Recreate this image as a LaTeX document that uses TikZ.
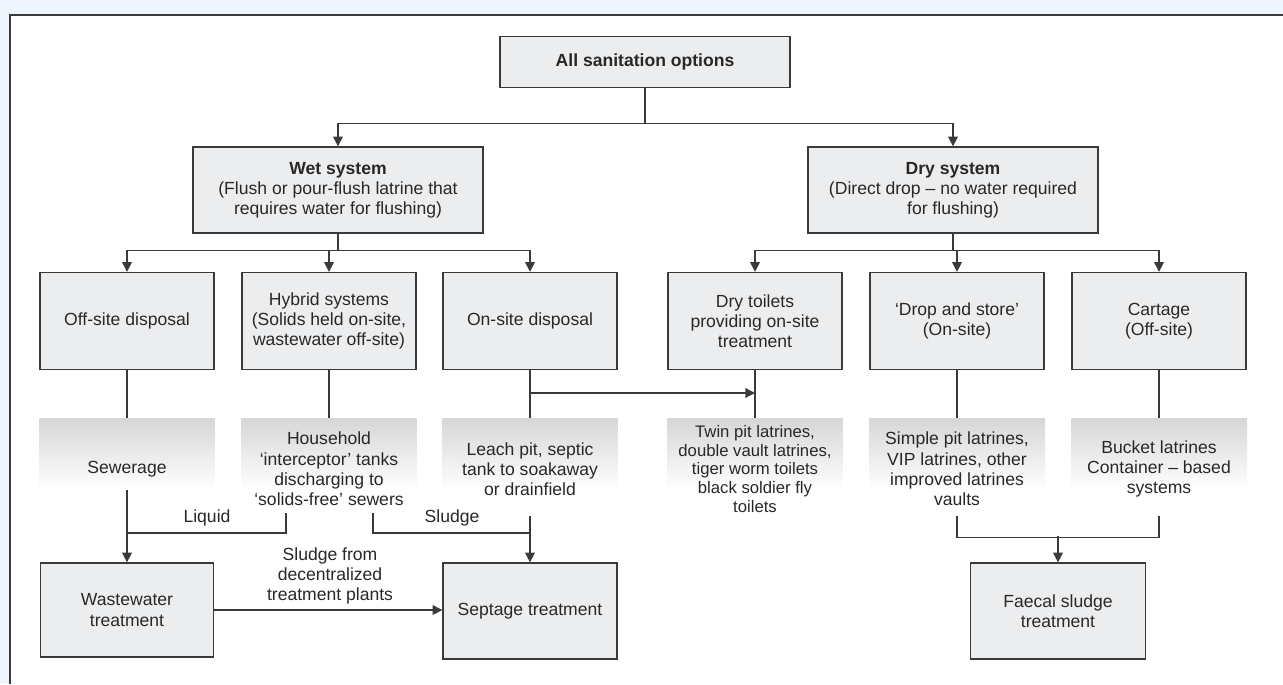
\documentclass[tikz,border=0pt]{standalone}
\usepackage{fontspec}
\setmainfont{Liberation Sans}
\usetikzlibrary{positioning, calc, arrows.meta}
\definecolor{boxfill}{RGB}{236,237,239}
\definecolor{boxline}{RGB}{58,58,58}
\definecolor{pagebg}{RGB}{238,245,252}
\definecolor{txt}{RGB}{40,40,40}

\begin{document}
\begin{tikzpicture}[
  x=0.02cm, y=-0.02cm,
  font=\fontsize{10}{11.5}\selectfont,
  box/.style={
    draw=boxline, fill=boxfill, line width=0.8pt,
    align=center, text=txt, inner sep=2pt
  },
  topbox/.style={box, minimum width=5.8cm, minimum height=1.02cm},
  sysbox/.style={box, minimum width=5.8cm, minimum height=1.72cm},
  optbox/.style={box, minimum width=3.48cm, minimum height=1.94cm},
  shadebg/.style={
    top color=gray!32, bottom color=white,
    minimum width=3.52cm, minimum height=1.44cm, inner sep=0pt
  },
  info/.style={align=center, text=txt, minimum height=1.88cm, inner sep=0pt},
  tag/.style={text=txt, align=center},
  link/.style={draw=boxline, line width=0.8pt},
  arr/.style={link, -{Triangle[length=5.5pt, width=5.5pt]}},
]
  \useasboundingbox (0,0) rectangle (1283,684);

  % --- Page and frame ---
  \fill[pagebg] (0,0) rectangle (1283,684);
  \fill[white] (10,15) rectangle (1283,684);
  \draw[link] (1283,15) -- (10,15) -- (10,684);

  % --- Top level ---
  \node[topbox] (all) at (645,62) {\textbf{All sanitation options}};
  \node[sysbox] (wet) at (338,190) {\textbf{Wet system}\\(Flush or pour-flush latrine that\\requires water for flushing)};
  \node[sysbox] (dry) at (953,190) {\textbf{Dry system}\\(Direct drop – no water required\\for flushing)};

  % --- Options ---
  \node[optbox] (offsite) at (127,321) {Off-site disposal};
  \node[optbox] (hybrid) at (329,321) {Hybrid systems\\(Solids held on-site,\\wastewater off-site)};
  \node[optbox] (onsite) at (530,321) {On-site disposal};
  \node[optbox] (drytoilet) at (755,321) {Dry toilets\\providing on-site\\treatment};
  \node[optbox] (dropstore) at (957,321) {‘Drop and store’\\(On-site)};
  \node[optbox] (cartage) at (1159,321) {Cartage\\(Off-site)};

  % --- Shaded examples ---
  \node[shadebg] (sewerbg) at (127,454) {};
  \node[shadebg] (housebg) at (329,454) {};
  \node[shadebg] (leachbg) at (530,454) {};
  \node[shadebg] (twinbg) at (755,454) {};
  \node[shadebg] (simplebg) at (957,454) {};
  \node[shadebg] (bucketbg) at (1159,454) {};

  \node[info] (sewer) at (127,469) {Sewerage};
  \node[info] (house) at (329,469) {Household\\‘interceptor’ tanks\\discharging to\\‘solids-free’ sewers};
  \node[info] (leach) at (530,469) {Leach pit, septic\\tank to soakaway\\or drainfield};
  \node[info, font=\fontsize{9.5}{10.6}\selectfont] (twin) at (755,469) {Twin pit latrines,\\double vault latrines,\\tiger worm toilets\\black soldier fly\\toilets};
  \node[info] (simple) at (957,469) {Simple pit latrines,\\VIP latrines, other\\improved latrines\\vaults};
  \node[info] (bucket) at (1159,469) {Bucket latrines\\Container – based\\systems};

  % --- Treatment ---
  \node[box, minimum width=3.46cm, minimum height=1.88cm] (wwt) at (127,610) {Wastewater\\treatment};
  \node[box, minimum width=3.48cm, minimum height=1.92cm] (sept) at (530,611) {Septage treatment};
  \node[box, minimum width=3.5cm, minimum height=1.92cm] (faecal) at (1058,611) {Faecal sludge\\treatment};

  % --- Connectors ---
  \draw[arr] (all.south) -- ++(0,35) -| (wet.north);
  \draw[arr] (all.south) -- ++(0,35) -| (dry.north);
  \foreach \opt in {offsite, hybrid, onsite}
    \draw[arr] (wet.south) -- ++(0,17) -| (\opt.north);
  \foreach \opt in {drytoilet, dropstore, cartage}
    \draw[arr] (dry.south) -- ++(0,17) -| (\opt.north);

  \draw[link] (offsite.south) -- (sewerbg.north);
  \draw[link] (hybrid.south) -- (housebg.north);
  \draw[link] (onsite.south) -- (leachbg.north);
  \draw[link] (drytoilet.south) -- (twinbg.north);
  \draw[link] (dropstore.south) -- (simplebg.north);
  \draw[link] (cartage.south) -- (bucketbg.north);

  \coordinate (split) at ($(onsite.south)!0.48!(leachbg.north)$);
  \draw[arr] (split) -- (split -| drytoilet.south);

  \draw[arr] (sewerbg.south) -- (wwt.north);
  \coordinate (liqj) at ($(sewerbg.south)!0.59!(wwt.north)$);
  \draw[link] ($(house.south)+(-43,-3)$) |- (liqj);
  \coordinate (sludj) at ($(leach.south)!0.36!(sept.north)$);
  \draw[link] ($(house.south)+(44,-3)$) |- (sludj);
  \draw[arr] (leach.south) -- (sept.north);
  \draw[arr] (wwt.east) -- (wwt.east -| sept.west);

  \draw[link] (simple.south) -- ++(0,21) -| (bucket.south);
  \draw[arr] ($(faecal.north)+(0,-26)$) -- (faecal.north);

  % --- Flow labels ---
  \node[tag] (liquid) at (207,518) {Liquid};
  \node[tag] (sludge) at (452,518) {Sludge};
  \node[tag] (sludgefrom) at (330,576) {Sludge from\\decentralized\\treatment plants};

\end{tikzpicture}
\end{document}
